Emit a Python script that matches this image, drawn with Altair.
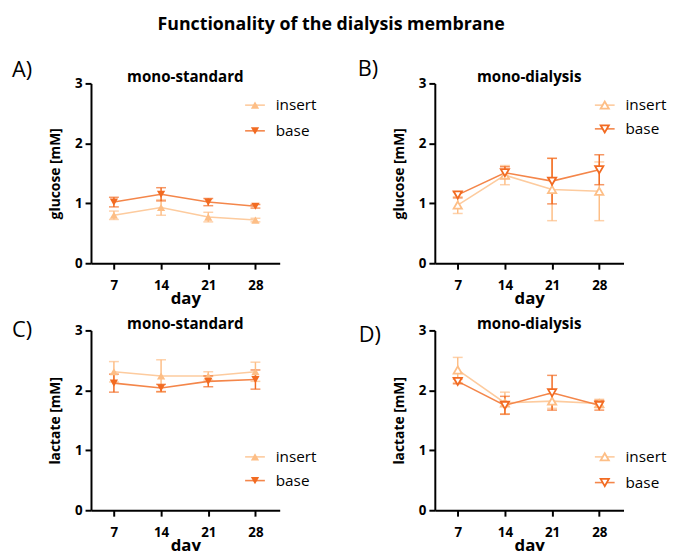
import altair as alt
import pandas as pd

days = [7, 14, 21, 28]
series = ["insert", "base"]
colors = ["#FDBE86", "#F26B22"]
line_colors = ["#FDCB9E", "#F4864A"]
main_title = "Functionality of the dialysis membrane"

# glucose, mono-standard
A_insert_mean = [0.80, 0.93, 0.77, 0.72]
A_insert_err = [0.07, 0.13, 0.08, 0.03]
A_base_mean = [1.02, 1.15, 1.02, 0.95]
A_base_err = [0.08, 0.11, 0.06, 0.03]
# glucose, mono-dialysis
B_insert_mean = [0.97, 1.47, 1.23, 1.20]
B_insert_err = [0.14, 0.16, 0.52, 0.49]
B_base_mean = [1.14, 1.51, 1.37, 1.56]
B_base_err = [0.05, 0.10, 0.38, 0.25]
# lactate, mono-standard
C_insert_mean = [2.31, 2.24, 2.24, 2.31]
C_insert_err = [0.17, 0.27, 0.07, 0.16]
C_base_mean = [2.12, 2.04, 2.15, 2.18]
C_base_err = [0.15, 0.06, 0.09, 0.16]
# lactate, mono-dialysis
D_insert_mean = [2.34, 1.79, 1.82, 1.78]
D_insert_err = [0.21, 0.18, 0.12, 0.07]
D_base_mean = [2.15, 1.75, 1.96, 1.75]
D_base_err = [0.04, 0.15, 0.29, 0.08]

FONT = "Open Sans"
W, H = 191, 182


def series_df(mean, err):
    return pd.DataFrame({
        "day": days,
        "mean": mean,
        "lo": [m - e for m, e in zip(mean, err)],
        "hi": [m + e for m, e in zip(mean, err)],
    })


def panel(ins_m, ins_e, base_m, base_e, ytitle, ptitle, letter, ldx, ldy,
          hollow, leg_x, leg_y, with_title=False):
    xs = alt.Scale(domain=[3.6, 31.6], nice=False, zero=False)
    ys = alt.Scale(domain=[0, 3], nice=False)
    xenc = alt.X("day:Q", scale=xs,
                 axis=alt.Axis(values=days, title="day", format="d"))
    yenc = alt.Y("mean:Q", scale=ys,
                 axis=alt.Axis(values=[0, 1, 2, 3], title=ytitle, format="d"))
    layers = []
    shapes = ["triangle-up", "triangle-down"]
    for i, (m, e) in enumerate([(ins_m, ins_e), (base_m, base_e)]):
        df = series_df(m, e)
        base = alt.Chart(df)
        c = colors[i]
        layers.append(base.mark_line(color=line_colors[i], strokeWidth=1.6).encode(
            x=xenc, y=yenc))
        layers.append(base.mark_rule(color=c, strokeWidth=1.5).encode(
            x=alt.X("day:Q", scale=xs), y=alt.Y("lo:Q", scale=ys), y2="hi:Q"))
        layers.append(base.mark_tick(color=c, orient="horizontal", size=10,
                                     thickness=1.5).encode(
            x=alt.X("day:Q", scale=xs), y=alt.Y("lo:Q", scale=ys)))
        layers.append(base.mark_tick(color=c, orient="horizontal", size=10,
                                     thickness=1.5).encode(
            x=alt.X("day:Q", scale=xs), y=alt.Y("hi:Q", scale=ys)))
    for i, (m, e) in enumerate([(ins_m, ins_e), (base_m, base_e)]):
        df = series_df(m, e)
        c = colors[i]
        if hollow:
            mk = alt.Chart(df).mark_point(shape=shapes[i], filled=True,
                                          fill="white", stroke=c,
                                          strokeWidth=1.8, size=70, opacity=1)
        else:
            mk = alt.Chart(df).mark_point(shape=shapes[i], filled=True,
                                          color=c, size=70, opacity=1)
        layers.append(mk.encode(x=alt.X("day:Q", scale=xs),
                                y=alt.Y("mean:Q", scale=ys)))
    # legend
    for i, name in enumerate(series):
        ly = leg_y[i]
        ldf = pd.DataFrame({"label": [name]})
        c = colors[i]
        layers.append(alt.Chart(ldf).mark_rule(color=line_colors[i],
                                               strokeWidth=1.6).encode(
            x=alt.value(leg_x), x2=alt.value(leg_x + 20), y=alt.value(ly)))
        if hollow:
            lm = alt.Chart(ldf).mark_point(shape=shapes[i], filled=True,
                                           fill="white", stroke=c,
                                           strokeWidth=1.8, size=70, opacity=1)
        else:
            lm = alt.Chart(ldf).mark_point(shape=shapes[i], filled=True,
                                           color=c, size=70, opacity=1)
        layers.append(lm.encode(x=alt.value(leg_x + 10), y=alt.value(ly)))
        layers.append(alt.Chart(ldf).mark_text(
            align="left", baseline="middle", font=FONT, fontSize=15.5,
            color="black").encode(
            text="label:N", x=alt.value(leg_x + 31), y=alt.value(ly)))
    # panel title
    tdf = pd.DataFrame({"t": [ptitle]})
    layers.append(alt.Chart(tdf).mark_text(
        align="center", baseline="middle", font=FONT, fontSize=15.3,
        fontWeight="bold", color="black").encode(
        text="t:N", x=alt.value(W / 2), y=alt.value(-6)))
    # panel letter
    ldf2 = pd.DataFrame({"t": [letter]})
    layers.append(alt.Chart(ldf2).mark_text(
        align="left", baseline="middle", font=FONT, fontSize=22,
        color="black").encode(
        text="t:N", x=alt.value(ldx), y=alt.value(ldy)))
    if with_title:
        mdf = pd.DataFrame({"t": [main_title]})
        layers.append(alt.Chart(mdf).mark_text(
            align="center", baseline="middle", font=FONT, fontSize=18,
            fontWeight="bold", color="black").encode(
            text="t:N", x=alt.value(243), y=alt.value(-59)))
    return alt.layer(*layers).properties(width=W, height=H)


pA = panel(A_insert_mean, A_insert_err, A_base_mean, A_base_err,
           "glucose [mM]", "mono-standard", "A)", -80, -13, False, 156, [22, 48],
           with_title=True)
pB = panel(B_insert_mean, B_insert_err, B_base_mean, B_base_err,
           "glucose [mM]", "mono-dialysis", "B)", -78, -15, True, 162, [22, 46])
pC = panel(C_insert_mean, C_insert_err, C_base_mean, C_base_err,
           "lactate [mM]", "mono-standard", "C)", -80, 0, False, 156, [128, 152])
pD = panel(D_insert_mean, D_insert_err, D_base_mean, D_base_err,
           "lactate [mM]", "mono-dialysis", "D)", -77, 5, True, 162, [128, 154])

chart = alt.concat(pA, pB, pC, pD, columns=2,
                   spacing={"row": 68, "column": 157},
                   bounds="flush").properties(
    autosize=alt.AutoSizeParams(type="none"),
    padding={"left": 84, "top": 73, "right": 583, "bottom": 475},
).configure_axis(
    domainColor="black", domainWidth=2, tickColor="black", tickWidth=2,
    tickSize=6, labelFont=FONT, labelFontWeight="bold", labelFontSize=13.5,
    labelColor="black", titleFont=FONT, titleFontWeight="bold",
    titleColor="black", grid=False, labelPadding=3,
).configure_axisX(titleFontSize=17, labelPadding=10, titlePadding=-2
).configure_axisY(titleFontSize=14, titlePadding=12
).configure_view(stroke=None)

chart.save("out.html", embed_options={"renderer": "svg", "actions": False})
